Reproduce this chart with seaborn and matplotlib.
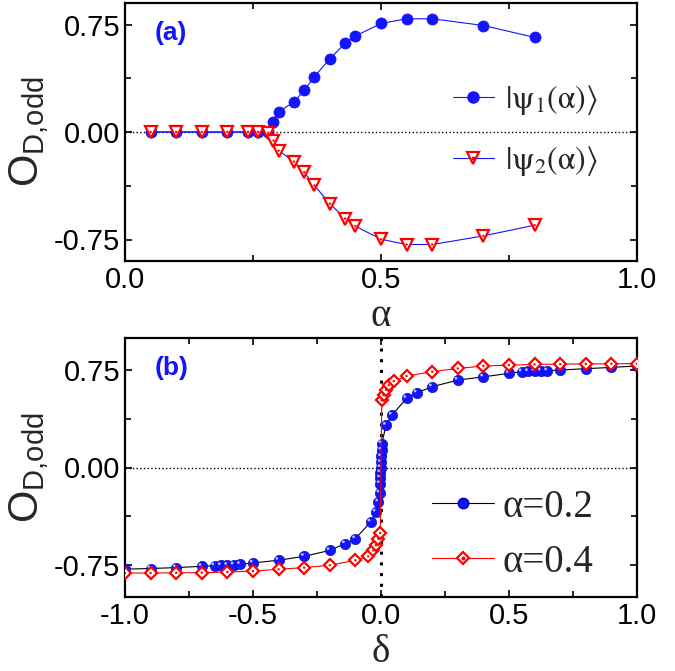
import matplotlib
matplotlib.use('Agg')
import matplotlib.pyplot as plt
import matplotlib.transforms as mtransforms
import pandas as pd
import seaborn as sns
from matplotlib.lines import Line2D
from matplotlib.legend_handler import HandlerTuple
from matplotlib.ticker import MultipleLocator

# panel (a): order parameter vs alpha
alpha = [0.05, 0.10, 0.15, 0.20, 0.24, 0.26, 0.28, 0.29, 0.30, 0.33, 0.35, 0.37,
         0.40, 0.43, 0.45, 0.50, 0.55, 0.60, 0.70, 0.80]
psi1 = [0, 0, 0, 0, 0, 0, 0, 0.072, 0.14, 0.21, 0.29, 0.387,
        0.51, 0.62, 0.67, 0.757, 0.79, 0.79, 0.743, 0.66]
psi2 = [0, 0, 0, 0, 0, 0, -0.005, -0.06, -0.13, -0.206, -0.28, -0.373,
        -0.5, -0.604, -0.657, -0.748, -0.785, -0.785, -0.725, -0.65]

# panel (b): order parameter vs delta
delta_a02 = [-1.0, -0.9, -0.8, -0.7, -0.65, -0.625, -0.6, -0.575, -0.55, -0.5, -0.4,
             -0.3, -0.2, -0.14, -0.1, -0.04, -0.02, -0.01, -0.005,
             -0.004, -0.003, -0.002, -0.001, 0.0, 0.001, 0.002, 0.003,
             0.02, 0.043, 0.1, 0.14, 0.2, 0.3, 0.4, 0.5, 0.55, 0.575, 0.6,
             0.625, 0.65, 0.7, 0.8, 0.9, 1.0]
od_a02 = [-0.785, -0.78, -0.773, -0.763, -0.758, -0.756, -0.755, -0.752, -0.748, -0.737, -0.716,
          -0.686, -0.64, -0.588, -0.549, -0.42, -0.343, -0.265, -0.196,
          -0.124, -0.08, -0.04, 0.0, 0.04, 0.085, 0.135, 0.185,
          0.327, 0.405, 0.534, 0.577, 0.624, 0.675, 0.70, 0.727, 0.74, 0.742, 0.745,
          0.746, 0.747, 0.753, 0.763, 0.773, 0.784]
delta_a04 = [-1.0, -0.9, -0.8, -0.7, -0.6, -0.5, -0.4, -0.3, -0.2, -0.1, -0.05,
             -0.03, -0.02, -0.01, -0.003, 0.003, 0.01, 0.02, 0.03, 0.05, 0.1,
             0.2, 0.3, 0.4, 0.5, 0.6, 0.7, 0.8, 0.9, 1.0]
od_a04 = [-0.815, -0.815, -0.813, -0.812, -0.807, -0.8, -0.786, -0.773, -0.755, -0.716, -0.686,
          -0.64, -0.6, -0.55, -0.505, 0.52, 0.56, 0.6, 0.636, 0.667, 0.706,
          0.74, 0.765, 0.784, 0.79, 0.796, 0.798, 0.8, 0.801, 0.802]

df_a = pd.DataFrame({'alpha': alpha, 'psi1': psi1, 'psi2': psi2})
df_b1 = pd.DataFrame({'delta': delta_a02, 'od': od_a02})
df_b2 = pd.DataFrame({'delta': delta_a04, 'od': od_a04})

sns.set_style('ticks')
plt.rcParams['font.family'] = ['Liberation Sans', 'DejaVu Sans']
plt.rcParams['mathtext.fontset'] = 'custom'
plt.rcParams['mathtext.rm'] = 'Liberation Sans'
plt.rcParams['mathtext.it'] = 'Liberation Sans:italic'

BLUE = '#1414ff'
RED = '#ff0000'
SERIF = ['Liberation Serif', 'DejaVu Serif']
YLAB = r'$\mathrm{O}_{\mathrm{D{,}odd}}$'

fig = plt.figure(figsize=(6.75, 6.71), dpi=100)
ax1 = fig.add_axes([125 / 675, 1 - 261 / 671, 512 / 675, 258 / 671])
ax2 = fig.add_axes([125 / 675, 1 - 597 / 671, 512 / 675, 259 / 671])

# ---- panel (a)
ax1.axhline(0, color='k', ls=':', lw=1.0, zorder=1)
sns.lineplot(data=df_a, x='alpha', y='psi1', ax=ax1, estimator=None, sort=False,
             color=BLUE, lw=0.8, marker='o', markersize=8, markeredgecolor=BLUE,
             markerfacecolor=BLUE, markeredgewidth=0.5, zorder=3)
sns.lineplot(data=df_a, x='alpha', y='psi2', ax=ax1, estimator=None, sort=False,
             color=BLUE, lw=0.8, marker='v', markersize=8.5, markeredgecolor=RED,
             markerfacecolor='white', markeredgewidth=1.6, zorder=4)
sns.scatterplot(data=df_a, x='alpha', y='psi2', ax=ax1, marker='o', s=3,
                color=RED, edgecolor='none', zorder=5, legend=False)

ax1.set_xlim(0, 1.0)
ax1.set_ylim(-0.9, 0.9)
ax1.xaxis.set_major_locator(MultipleLocator(0.5))
ax1.xaxis.set_minor_locator(MultipleLocator(0.25))
ax1.yaxis.set_major_locator(MultipleLocator(0.75))
ax1.yaxis.set_minor_locator(MultipleLocator(0.375))
ax1.set_xlabel('α', family=SERIF, fontsize=28, labelpad=3)
ax1.set_ylabel(YLAB, fontsize=30, labelpad=2)
ax1.text(0.058, 0.885, '(a)', transform=ax1.transAxes, color=BLUE, fontsize=19,
         fontweight='bold', ha='left', va='center')

h1 = Line2D([], [], color=BLUE, lw=0.8, marker='o', ms=8, mfc=BLUE, mec=BLUE)
h2a = Line2D([], [], color=BLUE, lw=0.8, marker='v', ms=8.5, mfc='white', mec=RED, mew=1.6)
h2b = Line2D([], [], ls='none', marker='o', ms=1.8, color=RED)
ax1.legend([h1, (h2a, h2b)],
           [r'$|\mathrm{\psi}_1(\mathrm{\alpha})\rangle$',
            r'$|\mathrm{\psi}_2(\mathrm{\alpha})\rangle$'],
           handler_map={tuple: HandlerTuple(ndivide=1)},
           prop={'size': 23, 'math_fontfamily': 'stix'},
           loc='center left', bbox_to_anchor=(0.64, 0.505), frameon=False,
           borderpad=0, borderaxespad=0, handlelength=1.3, handletextpad=0.35,
           labelspacing=0.85)

# ---- panel (b)
ax2.axhline(0, color='k', ls=':', lw=1.0, zorder=1)
ax2.axvline(0, color='k', ls=(0, (1, 2.5)), lw=2.2, zorder=1)
sns.lineplot(data=df_b1, x='delta', y='od', ax=ax2, estimator=None, sort=False,
             color='black', lw=0.8, marker='o', markersize=7.5, markeredgecolor='#0000b0',
             markerfacecolor=BLUE, markeredgewidth=0.4, zorder=3)
# small highlight on the blue spheres
hl = sns.scatterplot(data=df_b1, x='delta', y='od', ax=ax2, marker='o', s=4,
                     color='#b8b8ff', edgecolor='none', zorder=3.5, legend=False)
hl.collections[-1].set_offset_transform(
    ax2.transData + mtransforms.ScaledTranslation(-1.3 / 72, 1.3 / 72, fig.dpi_scale_trans))
sns.lineplot(data=df_b2, x='delta', y='od', ax=ax2, estimator=None, sort=False,
             color=RED, lw=0.8, marker='D', markersize=6.5, markeredgecolor=RED,
             markerfacecolor='white', markeredgewidth=1.6, zorder=4)
sns.scatterplot(data=df_b2, x='delta', y='od', ax=ax2, marker='o', s=3,
                color=RED, edgecolor='none', zorder=5, legend=False)

ax2.set_xlim(-1.0, 1.0)
ax2.set_ylim(-1.0, 1.0)
ax2.xaxis.set_major_locator(MultipleLocator(0.5))
ax2.xaxis.set_minor_locator(MultipleLocator(0.25))
ax2.yaxis.set_major_locator(MultipleLocator(0.75))
ax2.yaxis.set_minor_locator(MultipleLocator(0.375))
ax2.set_xlabel('δ', family=SERIF, fontsize=28, labelpad=3)
ax2.set_ylabel(YLAB, fontsize=30, labelpad=2)
ax2.text(0.058, 0.885, '(b)', transform=ax2.transAxes, color=BLUE, fontsize=19,
         fontweight='bold', ha='left', va='center')

g1 = Line2D([], [], color='black', lw=0.8, marker='o', ms=7.5, mfc=BLUE, mec='#0000b0')
g2a = Line2D([], [], color=RED, lw=0.8, marker='D', ms=6.5, mfc='white', mec=RED, mew=1.6)
g2b = Line2D([], [], ls='none', marker='o', ms=1.8, color=RED)
ax2.legend([g1, (g2a, g2b)], ['α=0.2', 'α=0.4'],
           handler_map={tuple: HandlerTuple(ndivide=1)},
           prop={'size': 28, 'family': SERIF},
           loc='center left', bbox_to_anchor=(0.60, 0.24), frameon=False,
           borderpad=0, borderaxespad=0, handlelength=1.6, handletextpad=0.2,
           labelspacing=0.45)

for ax in (ax1, ax2):
    for s in ax.spines.values():
        s.set_linewidth(1.6)
        s.set_color('black')
    ax.tick_params(which='both', direction='in', top=True, right=True,
                   width=1.2, colors='black', labelsize=21)
    ax.tick_params(which='major', length=5)
    ax.tick_params(which='minor', length=4)
    ax.yaxis.set_major_formatter(plt.FuncFormatter(lambda v, p: f'{v:.2f}'))
    ax.xaxis.set_major_formatter(plt.FuncFormatter(lambda v, p: f'{v:.1f}'))

fig.savefig('out.png', dpi=100)
